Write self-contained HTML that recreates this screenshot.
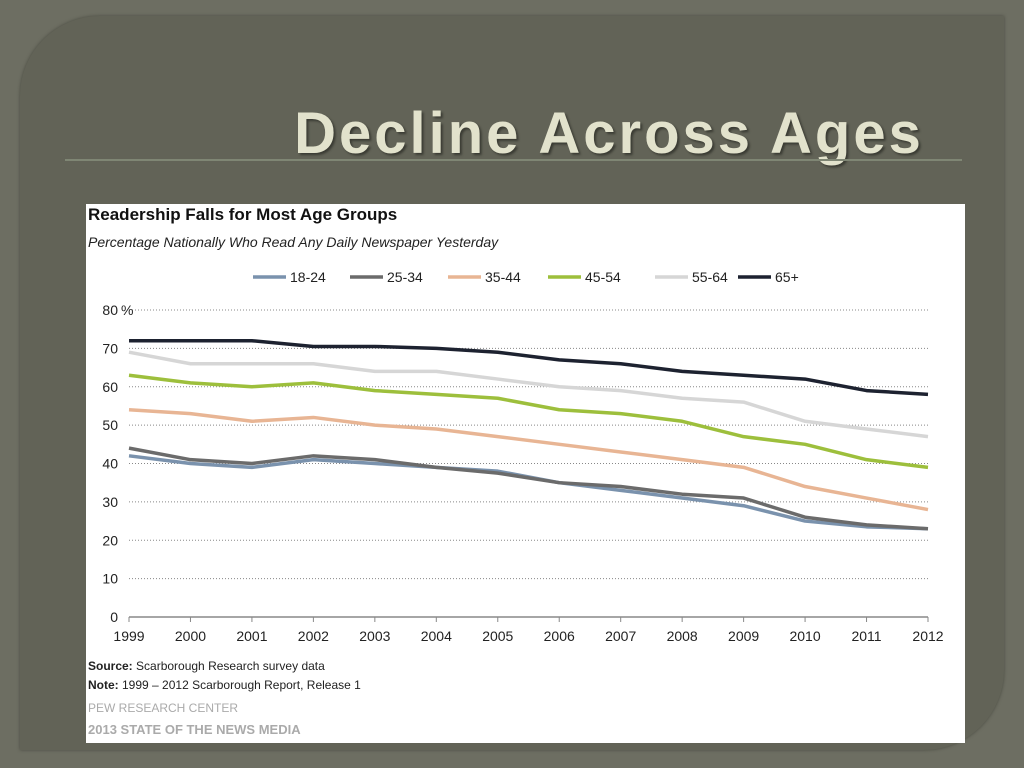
<!DOCTYPE html>
<html><head><meta charset="utf-8"><style>
body{margin:0;width:1024px;height:768px;overflow:hidden;background:#6d6e62;font-family:"Liberation Sans",sans-serif;}
#panel{position:absolute;left:20px;top:16px;width:984px;height:734px;background:#626357;border-radius:80px 0 80px 0;box-shadow:0 0 3px #4a4b42;}
#title{position:absolute;left:0;width:1218px;top:100px;text-align:center;font-size:58px;font-weight:bold;color:#e2e2cc;letter-spacing:3px;text-shadow:2px 2px 2px #3a3b33;}
#rule{position:absolute;left:65px;top:159px;width:897px;height:2px;background:#7f8674;}
#chart{position:absolute;left:86px;top:204px;width:879px;height:539px;background:#fff;}
</style></head><body>
<div id="panel"></div>
<div id="title">Decline Across Ages</div>
<div id="rule"></div>
<div id="chart">
<svg id="svg" width="879" height="539" xmlns="http://www.w3.org/2000/svg" font-family="Liberation Sans, sans-serif">
<text x="2" y="16" font-size="17" font-weight="bold" fill="#111">Readership Falls for Most Age Groups</text>
<text x="2" y="43" font-size="14" font-style="italic" fill="#222">Percentage Nationally Who Read Any Daily Newspaper Yesterday</text>
<text x="2" y="466" font-size="12" fill="#222"><tspan font-weight="bold">Source:</tspan> Scarborough Research survey data</text>
<text x="2" y="485" font-size="12" fill="#222"><tspan font-weight="bold">Note:</tspan> 1999 – 2012 Scarborough Report, Release 1</text>
<text x="2" y="508" font-size="12" fill="#aaa">PEW RESEARCH CENTER</text>
<text x="2" y="530" font-size="13" font-weight="bold" fill="#aaa">2013 STATE OF THE NEWS MEDIA</text>
<g id="plot"></g>
</svg>
</div>
<script>
const years=["1999","2000","2001","2002","2003","2004","2005","2006","2007","2008","2009","2010","2011","2012"];
const yTicks=[0,10,20,30,40,50,60,70,80];
const seriesNames=["18-24","25-34","35-44","45-54","55-64","65+"];
const s1824=[42,40,39,41,40,39,38,35,33,31,29,25,23.5,23];
const s2534=[44,41,40,42,41,39,37.5,35,34,32,31,26,24,23];
const s3544=[54,53,51,52,50,49,47,45,43,41,39,34,31,28];
const s4554=[63,61,60,61,59,58,57,54,53,51,47,45,41,39];
const s5564=[69,66,66,66,64,64,62,60,59,57,56,51,49,47];
const s65=[72,72,72,70.5,70.5,70,69,67,66,64,63,62,59,58];
const allSeries=[s1824,s2534,s3544,s4554,s5564,s65];
const colors=["#7a92ad","#6b6b6b","#e8b594","#9dbf3c","#d6d6d6","#1d2230"];
const NS="http://www.w3.org/2000/svg";
const g=document.getElementById('plot');
const X0=43,X1=842,Y0=413,Y1=106;
const xs=i=>X0+(X1-X0)*i/(years.length-1);
const ys=v=>Y0-(Y0-Y1)*v/80;
function mk(t,a){const e=document.createElementNS(NS,t);for(const k in a)e.setAttribute(k,a[k]);g.appendChild(e);return e;}
yTicks.forEach(v=>{
 if(v>0){const l=mk('line',{x1:X0,x2:X1,y1:ys(v),y2:ys(v),stroke:'#888','stroke-dasharray':'1,2','stroke-width':1});
 
 }
 const t=mk('text',{x:32,y:ys(v)+5,'font-size':14,fill:'#222','text-anchor':'end'});t.textContent=v;
 
 
});
const pct=mk('text',{x:35,y:ys(80)+5,'font-size':14,fill:'#222'});pct.textContent='%';


const ax=mk('line',{x1:X0,x2:X1,y1:Y0,y2:Y0,stroke:'#888','stroke-width':1.5});


years.forEach((y,i)=>{
 mk('line',{x1:xs(i),x2:xs(i),y1:Y0,y2:Y0+5,stroke:'#888'});
 const t=mk('text',{x:xs(i),y:Y0+24,'font-size':14,fill:'#222','text-anchor':'middle'});t.textContent=y;
 
 
});
allSeries.forEach((s,k)=>{
 const p=mk('polyline',{points:s.map((v,i)=>xs(i)+','+ys(v)).join(' '),fill:'none',stroke:colors[k],'stroke-width':3.5,'stroke-linejoin':'round'});
 
 
});
const lx=[167,264,362,462,569,652];
seriesNames.forEach((n,k)=>{
 const L=lx[k];
 const l=mk('line',{x1:L,x2:L+33,y1:73,y2:73,stroke:colors[k],'stroke-width':3.5});
 
 
 const t=mk('text',{x:L+37,y:78,'font-size':14,fill:'#222'});t.textContent=n;
 
 
});
</script>
</body></html>
